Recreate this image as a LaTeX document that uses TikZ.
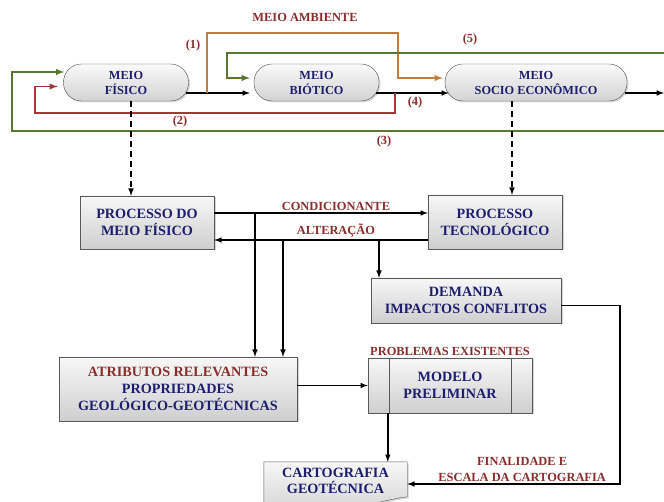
\documentclass[tikz,border=0pt]{standalone}
\usepackage{fontspec}
\setmainfont{Liberation Serif}
\usetikzlibrary{arrows, calc, positioning, shadows, backgrounds}

\definecolor{navytxt}{RGB}{30,30,110}
\definecolor{lblred}{RGB}{140,45,45}
\definecolor{orgline}{RGB}{190,125,65}
\definecolor{grnline}{RGB}{90,120,45}
\definecolor{redline}{RGB}{165,55,55}

\begin{document}
\begin{tikzpicture}[x=1pt, y=-1pt, >=latex,
    pill/.style={draw=gray!60!black, rounded corners=18pt, minimum height=37pt,
      top color=gray!4, bottom color=gray!35, align=center, inner sep=2pt,
      text=navytxt, font=\bfseries\fontsize{12.3}{15}\selectfont,
      drop shadow={opacity=0.3, shadow xshift=1.5pt, shadow yshift=-1.5pt}},
    box/.style={draw=black!65, top color=gray!6, bottom color=gray!38,
      align=center, inner sep=2pt, text=navytxt,
      font=\bfseries\fontsize{14.2}{17}\selectfont,
      drop shadow={opacity=0.35, shadow xshift=1.5pt, shadow yshift=-1.5pt}},
    lbl/.style={text=lblred, font=\bfseries\fontsize{12.4}{16}\selectfont,
      align=center, inner sep=2pt},
    conn/.style={line width=1.5pt, black},
    colline/.style={line width=1.8pt},
    dashline/.style={line width=1.5pt, dash pattern=on 6pt off 4pt}]
    \useasboundingbox (0,0) rectangle (664,502);

    % meios
    \node[pill, minimum width=125pt] (fisico) at (126,82.5) {MEIO\\FÍSICO};
    \node[pill, minimum width=125pt] (biotico) at (316.5,82.5) {MEIO\\BIÓTICO};
    \node[pill, minimum width=182pt] (socio) at (536,82.5) {MEIO\\SOCIO ECONÔMICO};

    % processos
    \node[box, minimum width=134pt, minimum height=53pt] (pmf) at (147,222.5) {PROCESSO DO\\MEIO FÍSICO};
    \node[box, minimum width=134pt, minimum height=54pt] (tec) at (495,222) {PROCESSO\\TECNOLÓGICO};
    \node[box, minimum width=190pt, minimum height=45pt] (dem) at (466,300.5) {DEMANDA\\IMPACTOS CONFLITOS};
    \node[box, minimum width=238pt, minimum height=64pt] (atr) at (178,389)
      {\textcolor{lblred}{ATRIBUTOS RELEVANTES}\\PROPRIEDADES\\GEOLÓGICO-GEOTÉCNICAS};
    \node[box, minimum width=164pt, minimum height=55pt] (mod) at (450,385.5) {MODELO\\PRELIMINAR};
    \draw[black!65] ([xshift=21pt]mod.north west) -- ([xshift=21pt]mod.south west);
    \draw[black!65] ([xshift=-21pt]mod.north east) -- ([xshift=-21pt]mod.south east);
    \node[lbl, above=0pt of mod] (probl) {PROBLEMAS EXISTENTES};

    \node[align=center, inner sep=2pt, text=navytxt, minimum width=143pt, minimum height=38pt,
      font=\bfseries\fontsize{14.2}{16}\selectfont] (carto) at (335.5,481) {CARTOGRAFIA\\GEOTÉCNICA};
    \begin{scope}[on background layer]
      \path[draw=black!65, top color=gray!6, bottom color=gray!38,
        drop shadow={opacity=0.35, shadow xshift=1.5pt, shadow yshift=-1.5pt}]
        (carto.north west) -- (carto.north east) -- ++(0,35)
        .. controls (385,499) and (345,514) .. (carto.west |- 0,520) -- cycle;
    \end{scope}

    % ligacoes entre os meios
    \coordinate (exitR) at (664,93);
    \draw[conn,->] ([xshift=-3pt,yshift=-10.5pt]fisico.east) -- ([xshift=-4pt,yshift=-10.5pt]biotico.west);
    \draw[conn,->] ([xshift=-3pt,yshift=-10.5pt]biotico.east) -- ([xshift=4pt,yshift=-10.5pt]socio.west);
    \draw[conn,->] ([xshift=-2pt,yshift=-10.5pt]socio.east) -- (exitR);

    \coordinate (br1) at (207,93);
    \coordinate (ambR) at (398,33);
    \draw[orgline, colline, ->] (br1) |- (ambR) |- ([xshift=-2pt,yshift=4.5pt]socio.west);

    \coordinate (g5R) at (664,53);
    \coordinate (g5L) at (227,53);
    \draw[grnline, colline, ->] (g5R) -- (g5L) |- ([xshift=-4pt,yshift=4.5pt]biotico.west);

    \coordinate (g3R) at (664,131);
    \coordinate (g3L) at (12,131);
    \draw[grnline, colline, ->] (g3R) -- (g3L) |- ([xshift=1pt,yshift=10.5pt]fisico.west);

    \coordinate (br2) at (395,93);
    \coordinate (r2L) at (35,113);
    \draw[redline, colline, ->] (br2) |- (r2L) |- ([xshift=-5.5pt,yshift=-4pt]fisico.west);

    \node[lbl] (amb) at (305,17) {MEIO AMBIENTE};
    \node[lbl] (n1) at (193,46) {(1)};
    \node[lbl] (n5) at (470,40) {(5)};
    \node[lbl] (n2) at (180,122) {(2)};
    \node[lbl] (n4) at (415,103) {(4)};
    \node[lbl] (n3) at (384,142) {(3)};

    \draw[dashline,->] ([xshift=5pt]fisico.south) -- ([xshift=5pt]fisico.south |- pmf.north);
    \draw[dashline,->] ([xshift=-24pt]socio.south) -- ([xshift=-24pt]socio.south |- tec.north);

    % processos
    \draw[conn,->] ([yshift=9.5pt]pmf.east) -- ([yshift=9.5pt]pmf.east -| tec.west)
      node[lbl, pos=0.57, above] {CONDICIONANTE};
    \draw[conn,->] ([yshift=-18pt]tec.west) -- ([yshift=-18pt]tec.west -| pmf.east)
      node[lbl, pos=0.43, above] {ALTERAÇÃO};

    \coordinate (v1) at (255,213);
    \coordinate (v2) at (283,240);
    \coordinate (v3) at (379,240);
    \draw[conn,->] (v1) -- (v1 |- atr.north);
    \draw[conn,->] (v2) -- (v2 |- atr.north);
    \draw[conn,->] (v3) -- (v3 |- dem.north);

    \draw[conn,->] (atr.east |- mod.west) -- (mod.west);
    \draw[conn,->] ([xshift=20pt]mod.south west) -- ([xshift=20pt]mod.south west |- carto.north);

    \coordinate (dR) at (620,484);
    \draw[conn,->] ([yshift=-5pt]dem.east) -| (dR) -- (dR -| carto.east)
      node[lbl, pos=0.46, above] {FINALIDADE E\\ESCALA DA CARTOGRAFIA};
  \end{tikzpicture}
\end{document}
